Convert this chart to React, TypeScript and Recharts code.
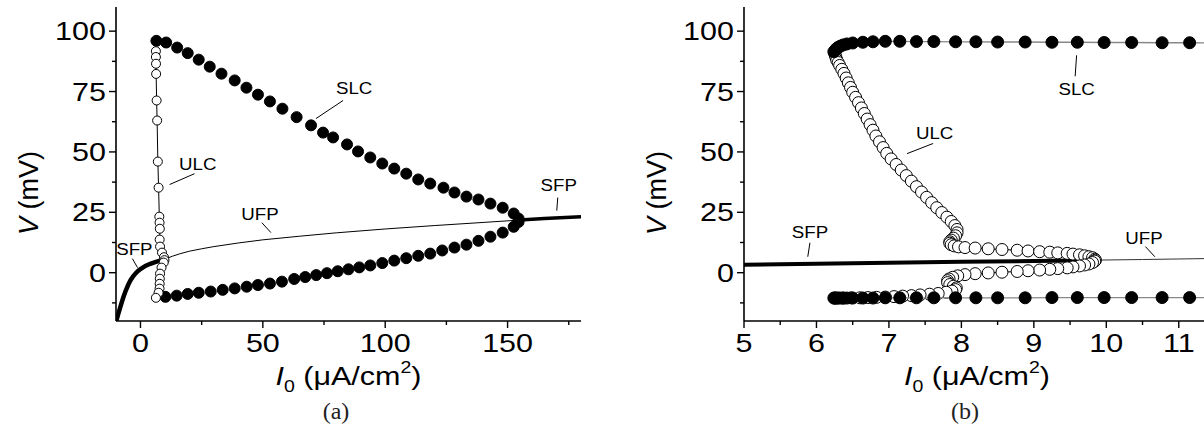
import React from "react";
import { ScatterChart, Scatter, XAxis, YAxis, ReferenceLine, ReferenceDot } from "recharts";

type P = [number, number];

// ---------- panel (a): I0 over the whole range ----------
const aSfpLow: P[] = [
  [-10, -20.5], [-9, -16.8], [-8, -13.4], [-7, -10.2], [-6, -7.4], [-5, -5.0], [-4, -3.0],
  [-3, -1.5], [-2, -0.3], [-1, 0.7], [0, 1.5], [2, 2.8], [4, 3.7], [6, 4.4], [8, 5.0], [9.8, 5.5],
];
const aUfp: P[] = [
  [9.8, 5.5], [11, 6.0], [13, 6.8], [16, 7.8], [20, 8.9], [25, 9.9], [30, 10.8], [40, 12.3],
  [50, 13.6], [65, 15.1], [80, 16.5], [100, 18.1], [120, 19.5], [140, 20.8], [155, 21.8],
];
const aSfpHigh: P[] = [[155, 21.8], [165, 22.4], [180, 23.2]];
const aSlcMax: P[] = [
  [6.5, 96], [10.5, 95.3], [15, 93.2], [19.3, 90.9], [23.8, 88.2], [28.3, 85.3], [33.1, 82.4],
  [38.5, 79.6], [43.3, 76.6], [48, 73.7], [52.9, 70.9], [58, 67.9], [63.8, 64.4], [69.7, 61],
  [74.6, 58], [78.7, 56], [84.4, 53.1], [88.9, 50.2], [93.9, 47.7], [98.8, 45.2], [103.7, 43.1],
  [108.6, 41], [113.5, 38.6], [118.4, 36.9], [123.8, 35.2], [128.3, 33.2], [133.2, 31.5],
  [138.1, 30.3], [143, 28.6], [148, 26.9], [152.5, 24.5], [154.5, 22.4],
];
const aSlcMin: P[] = [
  [10.2, -10], [14.8, -9.5], [19.3, -8.8], [23.8, -8.3], [28.7, -7.8], [33.6, -7.1], [38.5, -6.5],
  [43.4, -5.8], [48, -5.1], [52.9, -4.5], [57.8, -3.7], [62.8, -2.6], [67.3, -1.8], [71.8, -1],
  [76.2, -0.2], [80.6, 0.6], [85, 1.4], [89.4, 2.2], [93.9, 3], [98.8, 4], [103.7, 5], [108.6, 6],
  [113.5, 7], [118.4, 7.9], [123.3, 9.2], [128.3, 10.4], [133.2, 11.6], [138.1, 13.2], [143, 14.9],
  [148, 16.6], [152.5, 19], [154.5, 21],
];
const aUlc: P[] = [
  [6.3, 91.7], [6.3, 89.3], [6.35, 86.5], [6.4, 82.3], [6.6, 71.3], [6.8, 63], [7.1, 46],
  [7.4, 35.2], [7.7, 23.2], [7.8, 20.7], [7.9, 18.2], [7.85, 13.7], [8.0, 10.8], [8.8, 8.3],
  [9.6, 6.4], [9.8, 5.2], [9.5, 4.2], [8.6, 2.1], [8.0, -0.4], [7.9, -2.5], [7.85, -4.6],
  [7.8, -6.6], [7.4, -8.3], [6.3, -10.4],
];

// ---------- panel (b): zoom on 5..11.5 ----------
const bSfp: P[] = [[5, 3.3], [6, 3.7], [7, 4.1], [8, 4.5], [9, 4.85], [9.85, 5.2]];
const bUfp: P[] = [[9.85, 5.2], [10.5, 5.45], [11.5, 5.9]];
const bSlcI = [
  6.24, 6.26, 6.28, 6.3, 6.33, 6.37, 6.42, 6.5, 6.64, 6.78, 6.95, 7.15, 7.38, 7.62, 7.92, 8.2,
  8.5, 8.88, 9.25, 9.6, 9.97, 10.35, 10.77, 11.15, 11.55,
];
const bSlcMax = [
  91.5, 92.2, 92.8, 93.3, 93.8, 94.3, 94.7, 95.1, 95.4, 95.6, 95.8, 95.8, 95.7, 95.7, 95.6, 95.6,
  95.5, 95.5, 95.4, 95.4, 95.3, 95.3, 95.2, 95.2, 95.1,
];
const bSlcMin = [
  -10.5, -10.5, -10.5, -10.5, -10.5, -10.5, -10.5, -10.5, -10.5, -10.5, -10.4, -10.4, -10.4,
  -10.4, -10.4, -10.4, -10.4, -10.4, -10.3, -10.3, -10.3, -10.3, -10.3, -10.3, -10.3,
];
const bUlc: P[] = [
  [6.25, 91], [6.26, 90], [6.27, 89], [6.28, 88], [6.3, 87], [6.32, 85.8], [6.35, 84.2],
  [6.38, 82.5], [6.41, 80.6], [6.44, 78.6], [6.47, 76.7], [6.5, 74.7], [6.54, 72.6], [6.58, 70.4],
  [6.62, 68.2], [6.66, 65.9], [6.7, 63.6], [6.74, 61.3], [6.78, 59], [6.82, 56.6], [6.87, 54.2],
  [6.92, 51.8], [6.97, 49.4], [7.03, 47.1], [7.1, 44.8], [7.17, 42.5], [7.24, 40.2], [7.31, 37.9],
  [7.38, 35.6], [7.45, 33.4], [7.52, 31.2], [7.59, 29], [7.66, 26.9], [7.73, 24.9], [7.8, 23],
  [7.86, 21.2], [7.91, 19.5], [7.94, 17.9], [7.94, 16.5], [7.92, 15.3], [7.89, 14.3], [7.86, 13.5],
  [7.84, 12.8], [7.84, 12.2], [7.86, 11.6], [7.9, 11.1], [7.96, 10.7], [8.05, 10.4], [8.19, 10.2],
  [8.37, 9.9], [8.56, 9.6], [8.77, 9.3], [8.92, 9.0], [9.08, 8.7], [9.22, 8.5], [9.33, 8.2],
  [9.46, 8.0], [9.54, 7.7], [9.63, 7.4], [9.7, 7.0], [9.76, 6.6], [9.81, 6.2], [9.84, 5.6],
  [9.85, 5.2], [9.84, 4.8], [9.81, 4.2], [9.76, 3.6], [9.7, 3.2], [9.63, 2.8], [9.54, 2.4],
  [9.46, 2.0], [9.33, 1.7], [9.22, 1.4], [9.08, 1.1], [8.92, 0.8], [8.77, 0.5], [8.56, 0.2],
  [8.37, -0.1], [8.19, -0.4], [8.05, -0.8], [7.95, -1.3], [7.88, -1.9], [7.83, -2.6], [7.81, -3.3],
  [7.81, -4.1], [7.84, -4.9], [7.89, -5.6], [7.93, -6.3], [7.92, -7.0], [7.87, -7.6], [7.79, -8.1],
  [7.68, -8.6], [7.56, -8.9], [7.43, -9.2], [7.31, -9.5], [7.19, -9.7], [7.07, -9.9], [6.95, -10.1],
  [6.83, -10.2], [6.71, -10.3], [6.6, -10.4], [6.48, -10.4], [6.37, -10.5], [6.25, -10.5],
];

// ---------- axes ----------
const vTicks = [-12.5, 0, 12.5, 25, 37.5, 50, 62.5, 75, 87.5, 100];
const vMajor = [0, 25, 50, 75, 100];
const aTicks = [0, 25, 50, 75, 100, 125, 150, 175];
const aMajor = [0, 50, 100, 150];
const bTicks = [5, 5.5, 6, 6.5, 7, 7.5, 8, 8.5, 9, 9.5, 10, 10.5, 11, 11.5];
const bMajor = [5, 6, 7, 8, 9, 10, 11];

// curve labels with their leader lines (data coordinates)
type Note = { text: string; at: P; from: P; to: P };
const aNotes: Note[] = [
  { text: "SLC", at: [87.3, 76.3], from: [82.8, 71.3], to: [71.7, 63.8] },
  { text: "ULC", at: [23.4, 45.2], from: [22.1, 41], to: [11.9, 36.5] },
  { text: "UFP", at: [48.8, 24.5], from: [49.6, 20.7], to: [53.3, 16.6] },
  { text: "SFP", at: [-2.5, 10], from: [-3.3, 5.8], to: [-1.2, 2.1] },
  { text: "SFP", at: [170.9, 36.1], from: [170.5, 31.1], to: [170.1, 25.7] },
];
const bNotes: Note[] = [
  { text: "SLC", at: [9.59, 75.9], from: [9.59, 90], to: [9.57, 81.3] },
  { text: "ULC", at: [7.63, 58], from: [7.61, 53.5], to: [7.25, 49.3] },
  { text: "UFP", at: [10.52, 14.5], from: [10.54, 10.8], to: [10.67, 6.6] },
  { text: "SFP", at: [5.91, 17], from: [5.91, 12.4], to: [5.88, 6.6] },
];

const SANS = '"Liberation Sans", Arial, sans-serif';
const SERIF = '"Liberation Serif", "Times New Roman", serif';

const pts = (a: P[]) => a.map(([I, V]) => ({ I, V }));
const zip = (xs: number[], ys: number[]) => xs.map((I, i) => ({ I, V: ys[i] }));

const nothing = () => <g />;
const disc = (r: number, fill: string) => (p: any) =>
  p.cx == null ? <g /> : <circle cx={p.cx} cy={p.cy} r={r} fill={fill} stroke="#000" strokeWidth={1} />;

const xTick = (majors: number[]) => (p: any) => {
  const v = p.payload.value;
  const major = majors.includes(v);
  return (
    <g>
      <line x1={p.x} x2={p.x} y1={p.y} y2={p.y + (major ? 7 : 4)} stroke="#000" strokeWidth={1.4} />
      {major && (
        <text
          transform={`translate(${p.x},${p.y + 31}) scale(1.22,1)`}
          textAnchor="middle"
          fontSize={25}
          fontFamily={SANS}
          fill="#000"
        >
          {v}
        </text>
      )}
    </g>
  );
};

const yTick = (p: any) => {
  const v = p.payload.value;
  const major = vMajor.includes(v);
  return (
    <g>
      <line x1={p.x} x2={p.x - (major ? 7 : 4)} y1={p.y} y2={p.y} stroke="#000" strokeWidth={1.4} />
      {major && (
        <text
          transform={`translate(${p.x - 10},${p.y + 9}) scale(1.22,1)`}
          textAnchor="end"
          fontSize={25}
          fontFamily={SANS}
          fill="#000"
        >
          {v}
        </text>
      )}
    </g>
  );
};

const axisStyle = { stroke: "#000", strokeWidth: 1.6 };

function renderNotes(notes: Note[]) {
  return notes.flatMap((n, i) => [
    <ReferenceLine
      key={"l" + i}
      segment={[{ x: n.from[0], y: n.from[1] }, { x: n.to[0], y: n.to[1] }]}
      stroke="#000"
      strokeWidth={1}
      ifOverflow="visible"
    />,
    <ReferenceDot
      key={"t" + i}
      x={n.at[0]}
      y={n.at[1]}
      r={0}
      ifOverflow="visible"
      shape={(p: any) => (
        <text
          transform={`translate(${p.cx},${p.cy + 6}) scale(1.1,1)`}
          textAnchor="middle"
          fontSize={17}
          fontFamily={SANS}
          fill="#000"
        >
          {n.text}
        </text>
      )}
    />,
  ]);
}

function Frame(props: {
  left: number;
  width: number;
  domain: [number, number];
  ticks: number[];
  majors: number[];
  children: React.ReactNode;
}) {
  return (
    <div style={{ position: "absolute", left: props.left, top: 0 }}>
      <ScatterChart width={props.width} height={430} margin={{ top: 7, right: 19, bottom: 0, left: 0 }}>
        <XAxis
          type="number"
          dataKey="I"
          domain={props.domain}
          allowDataOverflow
          ticks={props.ticks}
          interval={0}
          tickSize={0}
          tickMargin={0}
          height={109}
          axisLine={axisStyle}
          tickLine={false}
          tick={xTick(props.majors)}
        />
        <YAxis
          type="number"
          dataKey="V"
          domain={[-20, 110]}
          allowDataOverflow
          ticks={vTicks}
          interval={0}
          tickSize={0}
          tickMargin={0}
          width={116}
          axisLine={axisStyle}
          tickLine={false}
          tick={yTick}
        />
        {props.children}
      </ScatterChart>
    </div>
  );
}

function Titles({ axisX, plotRight, caption, captionX }: { axisX: number; plotRight: number; caption: string; captionX: number }) {
  const cx = (axisX + plotRight) / 2;
  return (
    <g fontFamily={SANS} fill="#000">
      <text transform={`translate(${axisX - 78},193) rotate(-90)`} textAnchor="middle" fontSize={27}>
        <tspan fontStyle="italic">V</tspan>
        <tspan> (mV)</tspan>
      </text>
      <text transform={`translate(${cx},385) scale(1.22,1)`} textAnchor="middle" fontSize={25}>
        <tspan fontStyle="italic">I</tspan>
        <tspan fontSize={16} dy={7}>0</tspan>
        <tspan dy={-7}> (μA/cm</tspan>
        <tspan fontSize={16} dy={-12}>2</tspan>
        <tspan dy={12}>)</tspan>
      </text>
      <text x={captionX} y={419} textAnchor="middle" fontSize={24} fontFamily={SERIF} fill="#222">
        {caption}
      </text>
    </g>
  );
}

export default function App() {
  return (
    <div style={{ position: "absolute", left: 0, top: 0, width: 1204, height: 430, overflow: "hidden", background: "#fff" }}>
      <Frame left={0} width={600} domain={[-10, 180]} ticks={aTicks} majors={aMajor}>
        <Scatter data={pts(aSfpLow)} line={{ stroke: "#000", strokeWidth: 4.5 }} shape={nothing} isAnimationActive={false} />
        <Scatter data={pts(aUfp)} line={{ stroke: "#000", strokeWidth: 1 }} shape={nothing} isAnimationActive={false} />
        <Scatter data={pts(aSfpHigh)} line={{ stroke: "#000", strokeWidth: 3.5 }} shape={nothing} isAnimationActive={false} />
        <Scatter data={pts(aSlcMax)} shape={disc(5.5, "#000")} isAnimationActive={false} />
        <Scatter data={pts(aSlcMin)} shape={disc(5.5, "#000")} isAnimationActive={false} />
        <Scatter data={pts(aUlc)} line={{ stroke: "#000", strokeWidth: 1 }} shape={disc(4.5, "#fff")} isAnimationActive={false} />
        {renderNotes(aNotes)}
      </Frame>
      <Frame left={628} width={606} domain={[5, 11.5]} ticks={bTicks} majors={bMajor}>
        <Scatter data={pts(bSfp)} line={{ stroke: "#000", strokeWidth: 4 }} shape={nothing} isAnimationActive={false} />
        <Scatter data={pts(bUfp)} line={{ stroke: "#333", strokeWidth: 1 }} shape={nothing} isAnimationActive={false} />
        <Scatter data={pts(bUlc)} line={{ stroke: "#000", strokeWidth: 1 }} shape={disc(6, "#fff")} isAnimationActive={false} />
        <Scatter data={zip(bSlcI, bSlcMax)} line={{ stroke: "#888", strokeWidth: 1.3 }} shape={disc(6, "#000")} isAnimationActive={false} />
        <Scatter data={zip(bSlcI, bSlcMin)} line={{ stroke: "#888", strokeWidth: 1.3 }} shape={disc(6, "#000")} isAnimationActive={false} />
        {renderNotes(bNotes)}
      </Frame>
      <svg width={1204} height={430} style={{ position: "absolute", left: 0, top: 0, pointerEvents: "none" }}>
        <Titles axisX={116} plotRight={581} caption="(a)" captionX={336} />
        <Titles axisX={744} plotRight={1210} caption="(b)" captionX={965} />
      </svg>
    </div>
  );
}
